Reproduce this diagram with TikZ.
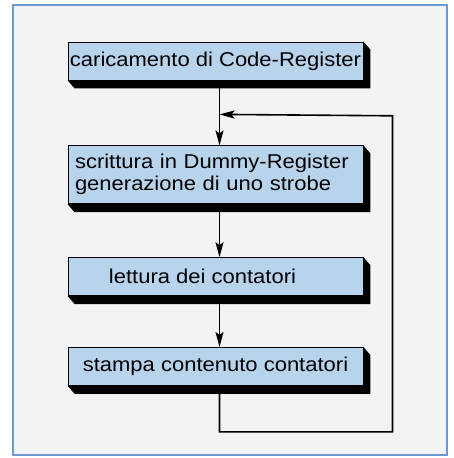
\documentclass[tikz,border=0pt]{standalone}
\usepackage{fontspec}
\newfontfamily\blockfont[FakeStretch=1.1]{Liberation Sans}
\usetikzlibrary{arrows.meta, positioning}
\definecolor{boxblue}{RGB}{184,212,237}
\definecolor{framebl}{RGB}{112,152,208}
\definecolor{paper}{RGB}{242,243,245}

\begin{document}
\begin{tikzpicture}[
    x=1pt, y=-1pt,
    node distance=50pt and 0pt,
    blocco/.style={draw=black, line width=0.8pt, fill=boxblue, minimum width=295pt, minimum height=38pt,
      inner xsep=2pt, inner ysep=5pt, font=\blockfont\fontsize{20}{22}\selectfont},
    sinistra/.style={blocco, align=left, text width=281pt, inner xsep=7pt},
    freccia/.style={-{Stealth[length=15pt, width=8pt, inset=3pt]}, line width=1.6pt}
]

% page and frame
\fill[white] (0,0) rectangle (453,458);
\draw[framebl, line width=2pt, fill=paper] (13,5) rectangle (447,455);

\node[blocco] (carica) at (215.5,61) {caricamento di Code-Register};
\node[sinistra, below=65pt of carica, minimum height=58pt] (scrivi) {scrittura in Dummy-Register\\generazione di uno strobe};
\node[blocco, below=53pt of scrivi] (leggi) {lettura dei contatori\hspace*{26pt}};
\node[blocco, below=51pt of leggi] (stampa) {stampa contenuto contatori};

% black extrusion under each block
\foreach \b in {carica, scrivi, leggi, stampa}
  \fill[black] (\b.north east) -- ([shift={(7,8)}]\b.north east) -- ([shift={(7,8)}]\b.south east)
    -- ([shift={(7,8)}]\b.south west) -- (\b.south west) -- (\b.south east) -- cycle;

\coordinate (innesto) at ([shift={(4,34)}]carica.south);

\foreach \x/\y in {carica/scrivi, scrivi/leggi, leggi/stampa}
  \draw[freccia] ([xshift=4pt]\x.south) -- ([xshift=4pt]\y.north);

\draw[freccia] ([xshift=4pt]stampa.south) -- ++(0,46) -| ++(173,-316) -- (innesto);

\end{tikzpicture}
\end{document}
